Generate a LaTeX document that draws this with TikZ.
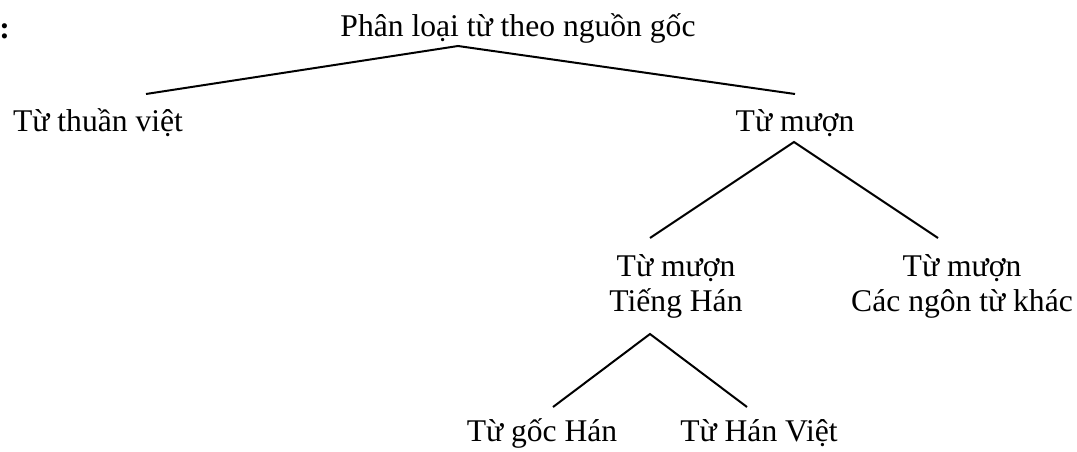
\documentclass[tikz,border=0pt]{standalone}
\usepackage{fontspec}
\setmainfont{Liberation Serif}
\begin{document}
\begin{tikzpicture}[x=0.75pt,y=-0.75pt,
  term/.style={inner sep=0pt,align=center,font=\fontsize{23.7}{26.25}\selectfont},
  branch/.style={line width=1.5pt}]
  \useasboundingbox (0,0) rectangle (1077,451);
  % the colon at the left edge
  \node[term,anchor=west,font=\fontsize{23.7}{26.25}\selectfont\bfseries] (colon) at (-1,31) {:};
  % nodes
  \node[term] (root) at (518,28) {Phân loại từ theo nguồn gốc};
  \node[term] (thuan) at (98,123) {Từ thuần việt};
  \node[term] (muon) at (795,123) {Từ mượn};
  \node[term] (tienghan) at (676,286) {Từ mượn\\Tiếng Hán};
  \node[term] (khac) at (962,286) {Từ mượn\\Các ngôn từ khác};
  \node[term] (gochan) at (542,433) {Từ gốc Hán};
  \node[term] (hanviet) at (759,433) {Từ Hán Việt};
  % joints
  \coordinate (rootfoot) at (458,46);
  \coordinate (thuantop) at (146,94);
  \coordinate (muontop) at (795,94);
  \coordinate (muonfoot) at (794,142);
  \coordinate (tienghantop) at (650,238);
  \coordinate (khactop) at (938,238);
  \coordinate (tienghanfoot) at (650,334);
  \coordinate (gochantop) at (553,407);
  \coordinate (hanviettop) at (747,407);
  % branches
  \draw[branch] (thuantop) -- (rootfoot) -- (muontop);
  \draw[branch] (tienghantop) -- (muonfoot) -- (khactop);
  \draw[branch] (gochantop) -- (tienghanfoot) -- (hanviettop);
\end{tikzpicture}
\end{document}
